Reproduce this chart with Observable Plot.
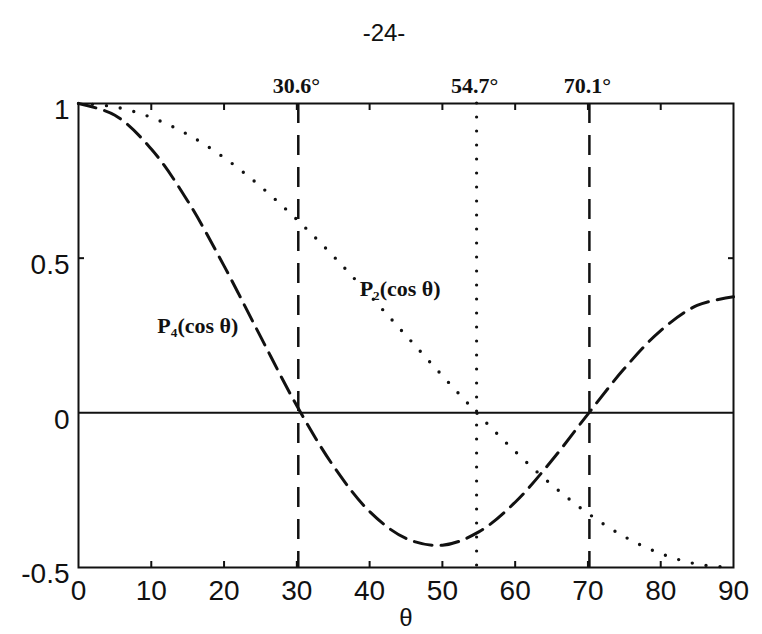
<!DOCTYPE html>
<html><head><meta charset="utf-8">
<script src="https://cdn.jsdelivr.net/npm/d3@7"></script>
<script src="https://cdn.jsdelivr.net/npm/@observablehq/plot@0.6"></script>
<style>body{margin:0;background:#fff}</style>
</head><body><div id="chart"></div>
<script>
// θ in degrees
const theta = [0,5,10,15,20,25,30,35,40,45,50,55,60,65,70,75,80,85,90];
const p2 = [1.000,0.989,0.955,0.900,0.825,0.732,0.625,0.507,0.380,0.250,0.120,-0.007,-0.125,-0.232,-0.325,-0.400,-0.455,-0.489,-0.500];
const p4 = [1.000,0.962,0.853,0.685,0.475,0.247,0.023,-0.171,-0.319,-0.406,-0.428,-0.385,-0.289,-0.155,-0.004,0.143,0.266,0.347,0.375];

const xTicks = [0,10,20,30,40,50,60,70,80,90];
const innerXTicks = [10,20,30,40,50,60,70,80];
const yTicks = [-0.5,0,0.5,1];
const innerYTicks = [0.5];

const markerAngles = [30.2,54.7,70.2];
const markerLabels = ["30.6°","54.7°","70.1°"];
const markerKinds = ["dashed","dotted","dashed"];

const curveLabelText = ["P₂(cos θ)","P₄(cos θ)"];
const curveLabelX = [44.2,16.4];
const curveLabelY = [0.40,0.28];

const rows = theta.map((t,i)=>({theta:t,p2:p2[i],p4:p4[i]}));
const markers = markerAngles.map((a,i)=>({a,label:markerLabels[i],kind:markerKinds[i]}));
const curveLabels = curveLabelText.map((t,i)=>({t,x:curveLabelX[i],y:curveLabelY[i]}));

const serif = "Liberation Serif, Times New Roman, serif";
const sans = "Liberation Sans, Arial, Helvetica, sans-serif";

const chart = Plot.plot({
  width: 762,
  height: 634,
  marginTop: 103,
  marginLeft: 78,
  marginRight: 29,
  marginBottom: 67,
  style: {fontFamily: sans, fontSize: "28px", background: "#fff", color: "#111"},
  x: {domain: [0,90]},
  y: {domain: [-0.5,1]},
  marks: [
    Plot.ruleY([0], {stroke: "#111", strokeWidth: 2}),
    Plot.ruleX(markers.filter(d=>d.kind==="dashed"), {x: "a", stroke: "#111", strokeWidth: 2.5, strokeDasharray: "20,12"}),
    Plot.ruleX(markers.filter(d=>d.kind==="dotted"), {x: "a", stroke: "#111", strokeWidth: 3.2, strokeDasharray: "0,14", strokeLinecap: "round"}),
    Plot.line(rows, {x: "theta", y: "p2", curve: "catmull-rom", stroke: "#111", strokeWidth: 3.4, strokeDasharray: "0,14", strokeLinecap: "round"}),
    Plot.line(rows, {x: "theta", y: "p4", curve: "catmull-rom", stroke: "#111", strokeWidth: 3, strokeDasharray: "18,9"}),
    Plot.frame({stroke: "#111", strokeWidth: 2}),
    Plot.axisX({anchor: "bottom", ticks: innerXTicks, tickSize: -6, strokeWidth: 2, tickFormat: () => ""}),
    Plot.axisX({anchor: "top", ticks: innerXTicks, tickSize: -6, strokeWidth: 2, tickFormat: () => ""}),
    Plot.axisY({anchor: "left", ticks: innerYTicks, tickSize: -6, strokeWidth: 2, tickFormat: () => ""}),
    Plot.axisY({anchor: "right", ticks: innerYTicks, tickSize: -6, strokeWidth: 2, tickFormat: () => ""}),
    Plot.axisX({anchor: "bottom", ticks: xTicks, tickSize: 0, tickPadding: 13, tickFormat: d => String(d), fontSize: 28, label: null}),
    Plot.axisY({anchor: "left", ticks: yTicks, tickSize: 0, tickPadding: 9, tickFormat: d => String(d), fontSize: 28, dy: 7, label: null}),
    Plot.text(markers, {x: "a", text: "label", frameAnchor: "top", lineAnchor: "bottom", dy: -11, dx: -2, fontFamily: serif, fontWeight: "bold", fontSize: 22, fill: "#111"}),
    Plot.text(curveLabels, {x: "x", y: "y", text: "t", fontFamily: serif, fontWeight: "bold", fontSize: 22, fill: "#111"}),
    Plot.text(["θ"], {text: d => d, frameAnchor: "bottom", dy: 58, fontSize: 24, fill: "#111"}),
    Plot.text(["-24-"], {text: d => d, frameAnchor: "top", dy: -80, dx: -22, fontSize: 24, fill: "#111"})
  ]
});
document.getElementById("chart").appendChild(chart);
</script>
</body></html>
